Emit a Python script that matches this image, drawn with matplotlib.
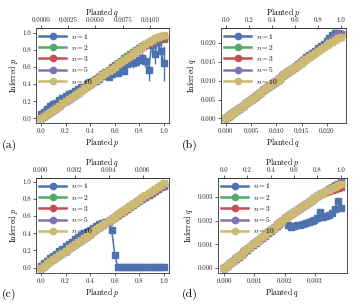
import numpy as np
import matplotlib
matplotlib.use('Agg')
import matplotlib.pyplot as plt
from matplotlib.lines import Line2D
from matplotlib.ticker import FormatStrFormatter

plt.rcParams['font.family'] = ['cmr10', 'DejaVu Serif']
plt.rcParams['mathtext.fontset'] = 'cm'
plt.rcParams['axes.unicode_minus'] = False
plt.rcParams['axes.formatter.use_mathtext'] = True

labels = ['$n = 1$', '$n = 2$', '$n = 3$', '$n = 5$', '$n = 10$']
colors = ['#4C72B0', '#55A868', '#C44E52', '#8172B2', '#CCB974']

# planted grids (41 evenly spaced planted values)
p_a = np.linspace(0, 1, 41)
q_b = np.linspace(0, 0.0228, 41)
p_c = np.linspace(0, 1, 41)
q_d = np.linspace(0, 0.00385, 41)

# (a) inferred p
a_n1 = [0.05, 0.08, 0.11, 0.14, 0.17, 0.18, 0.21, 0.24, 0.26, 0.28, 0.29, 0.32, 0.34, 0.36,
        0.37, 0.40, 0.42, 0.43, 0.44, 0.46, 0.49, 0.50, 0.48, 0.52, 0.55, 0.53, 0.60, 0.55,
        0.63, 0.66, 0.64, 0.66, 0.68, 0.70, 0.67, 0.56, 0.86, 0.75, 0.89, 0.79, 0.64]
a_n1_err = [0.01, 0.01, 0.01, 0.01, 0.01, 0.01, 0.01, 0.01, 0.01, 0.01, 0.01, 0.01, 0.01, 0.01,
            0.015, 0.015, 0.015, 0.02, 0.02, 0.02, 0.02, 0.025, 0.03, 0.03, 0.03, 0.035, 0.04,
            0.04, 0.045, 0.05, 0.05, 0.05, 0.05, 0.06, 0.07, 0.12, 0.10, 0.12, 0.09, 0.12, 0.20]
a_n2 = [0.000, 0.025, 0.050, 0.075, 0.100, 0.125, 0.150, 0.175, 0.200, 0.226, 0.251, 0.276,
        0.302, 0.327, 0.353, 0.379, 0.405, 0.431, 0.458, 0.485, 0.512, 0.539, 0.566, 0.593,
        0.620, 0.646, 0.672, 0.698, 0.724, 0.750, 0.775, 0.799, 0.822, 0.845, 0.865, 0.882,
        0.897, 0.908, 0.917, 0.924, 0.929]
a_n3 = [0.000, 0.024, 0.049, 0.074, 0.099, 0.124, 0.149, 0.174, 0.199, 0.224, 0.250, 0.275,
        0.300, 0.326, 0.351, 0.377, 0.402, 0.428, 0.453, 0.479, 0.505, 0.530, 0.556, 0.582,
        0.607, 0.633, 0.658, 0.684, 0.709, 0.734, 0.759, 0.784, 0.808, 0.832, 0.856, 0.878,
        0.897, 0.912, 0.925, 0.934, 0.940]
a_n5 = [0.000, 0.024, 0.049, 0.074, 0.099, 0.124, 0.149, 0.174, 0.199, 0.224, 0.249, 0.275,
        0.300, 0.325, 0.350, 0.376, 0.401, 0.426, 0.452, 0.477, 0.503, 0.528, 0.554, 0.579,
        0.605, 0.630, 0.656, 0.681, 0.707, 0.733, 0.758, 0.784, 0.809, 0.835, 0.860, 0.884,
        0.906, 0.926, 0.941, 0.951, 0.956]
a_n10 = [0.000, 0.024, 0.049, 0.074, 0.099, 0.124, 0.149, 0.174, 0.199, 0.224, 0.249, 0.274,
         0.299, 0.324, 0.350, 0.375, 0.400, 0.425, 0.450, 0.476, 0.501, 0.526, 0.552, 0.577,
         0.603, 0.628, 0.654, 0.680, 0.706, 0.732, 0.758, 0.784, 0.810, 0.836, 0.862, 0.888,
         0.912, 0.935, 0.952, 0.963, 0.968]

# (b) inferred q
b_n1 = [0.00000, 0.00057, 0.00114, 0.00171, 0.00228, 0.00285, 0.00342, 0.00399, 0.00456,
        0.00513, 0.00570, 0.00627, 0.00684, 0.00741, 0.00798, 0.00855, 0.00912, 0.00969,
        0.01026, 0.01083, 0.01140, 0.01197, 0.01254, 0.01315, 0.01375, 0.01440, 0.01500,
        0.01560, 0.01620, 0.01680, 0.01740, 0.01800, 0.01860, 0.01920, 0.01980, 0.02050,
        0.02130, 0.02220, 0.02260, 0.02260, 0.02250]
b_n2 = [0.00000, 0.00057, 0.00114, 0.00171, 0.00228, 0.00285, 0.00342, 0.00399, 0.00456,
        0.00513, 0.00570, 0.00627, 0.00684, 0.00741, 0.00798, 0.00855, 0.00912, 0.00969,
        0.01026, 0.01083, 0.01140, 0.01197, 0.01254, 0.01311, 0.01368, 0.01425, 0.01482,
        0.01538, 0.01593, 0.01648, 0.01703, 0.01758, 0.01813, 0.01868, 0.01923, 0.01980,
        0.02040, 0.02100, 0.02160, 0.02200, 0.02220]
b_n3 = [0.00000, 0.00057, 0.00114, 0.00171, 0.00228, 0.00285, 0.00342, 0.00399, 0.00456,
        0.00513, 0.00570, 0.00627, 0.00684, 0.00741, 0.00798, 0.00855, 0.00912, 0.00969,
        0.01026, 0.01083, 0.01140, 0.01197, 0.01254, 0.01311, 0.01366, 0.01421, 0.01476,
        0.01531, 0.01586, 0.01640, 0.01694, 0.01748, 0.01802, 0.01856, 0.01910, 0.01965,
        0.02025, 0.02090, 0.02160, 0.02210, 0.02230]
b_n5 = [0.00000, 0.00057, 0.00114, 0.00171, 0.00228, 0.00285, 0.00342, 0.00399, 0.00456,
        0.00513, 0.00570, 0.00627, 0.00684, 0.00741, 0.00798, 0.00855, 0.00912, 0.00969,
        0.01026, 0.01083, 0.01140, 0.01197, 0.01254, 0.01311, 0.01368, 0.01425, 0.01480,
        0.01535, 0.01590, 0.01645, 0.01700, 0.01755, 0.01810, 0.01865, 0.01920, 0.01975,
        0.02035, 0.02110, 0.02190, 0.02240, 0.02240]
b_n10 = [0.00000, 0.00057, 0.00114, 0.00171, 0.00228, 0.00285, 0.00342, 0.00399, 0.00456,
         0.00513, 0.00570, 0.00627, 0.00684, 0.00741, 0.00798, 0.00855, 0.00912, 0.00969,
         0.01026, 0.01083, 0.01140, 0.01197, 0.01254, 0.01311, 0.01366, 0.01421, 0.01476,
         0.01530, 0.01580, 0.01630, 0.01680, 0.01740, 0.01790, 0.01840, 0.01890, 0.01940,
         0.01990, 0.02030, 0.02080, 0.02130, 0.02170]

# (c) inferred p
c_n1 = [0.02, 0.05, 0.08, 0.11, 0.13, 0.16, 0.19, 0.22, 0.25, 0.28, 0.30, 0.33, 0.36, 0.38,
        0.40, 0.42, 0.44, 0.46, 0.49, 0.51, 0.52, 0.53, 0.535, 0.44, 0.15, 0.004, 0.004, 0.004,
        0.004, 0.004, 0.004, 0.004, 0.004, 0.004, 0.004, 0.004, 0.004, 0.004, 0.004, 0.004, 0.004]
c_n1_err = [0.01, 0.01, 0.01, 0.01, 0.01, 0.01, 0.01, 0.01, 0.01, 0.01, 0.01, 0.01, 0.01, 0.01,
            0.01, 0.01, 0.01, 0.01, 0.01, 0.01, 0.01, 0.01, 0.015, 0.03, 0.03, 0.005, 0.005,
            0.005, 0.005, 0.005, 0.005, 0.005, 0.005, 0.005, 0.005, 0.005, 0.005, 0.005, 0.005,
            0.005, 0.005]
c_n2 = [0.000, 0.024, 0.049, 0.074, 0.099, 0.124, 0.149, 0.173, 0.198, 0.223, 0.248, 0.273,
        0.297, 0.322, 0.347, 0.372, 0.397, 0.421, 0.446, 0.471, 0.496, 0.520, 0.545, 0.569,
        0.593, 0.617, 0.641, 0.664, 0.688, 0.711, 0.734, 0.757, 0.772, 0.796, 0.822, 0.848,
        0.874, 0.899, 0.924, 0.948, 0.970]
c_n3 = [0.000, 0.024, 0.049, 0.074, 0.099, 0.124, 0.149, 0.173, 0.198, 0.223, 0.248, 0.273,
        0.297, 0.322, 0.347, 0.372, 0.397, 0.421, 0.446, 0.471, 0.496, 0.520, 0.544, 0.568,
        0.592, 0.616, 0.640, 0.664, 0.688, 0.712, 0.736, 0.759, 0.782, 0.805, 0.828, 0.851,
        0.874, 0.896, 0.917, 0.935, 0.950]
c_n5 = [0.000, 0.024, 0.049, 0.074, 0.099, 0.124, 0.149, 0.173, 0.198, 0.223, 0.248, 0.273,
        0.297, 0.322, 0.347, 0.372, 0.397, 0.421, 0.446, 0.471, 0.496, 0.521, 0.545, 0.570,
        0.595, 0.620, 0.645, 0.669, 0.694, 0.718, 0.742, 0.766, 0.790, 0.814, 0.838, 0.862,
        0.885, 0.907, 0.928, 0.946, 0.962]
c_n10 = [0.000, 0.024, 0.049, 0.074, 0.099, 0.124, 0.149, 0.173, 0.198, 0.223, 0.248, 0.273,
         0.297, 0.322, 0.347, 0.372, 0.397, 0.421, 0.446, 0.471, 0.496, 0.521, 0.545, 0.570,
         0.595, 0.620, 0.645, 0.669, 0.694, 0.719, 0.744, 0.769, 0.793, 0.818, 0.843, 0.868,
         0.893, 0.917, 0.942, 0.965, 0.988]

# (d) inferred q
d_n1 = [0.00000, 0.00009, 0.00019, 0.00029, 0.00039, 0.00048, 0.00058, 0.00068, 0.00078,
        0.00088, 0.00098, 0.00107, 0.00117, 0.00127, 0.00137, 0.00147, 0.00157, 0.00167,
        0.00177, 0.00187, 0.00197, 0.00206, 0.00180, 0.00174, 0.00176, 0.00180, 0.00183,
        0.00187, 0.00190, 0.00194, 0.00198, 0.00203, 0.00212, 0.00238, 0.00216, 0.00220,
        0.00224, 0.00232, 0.00250, 0.00285, 0.00255]
d_n2 = [0.00000, 0.00010, 0.00020, 0.00030, 0.00040, 0.00050, 0.00060, 0.00070, 0.00080,
        0.00090, 0.00100, 0.00110, 0.00120, 0.00130, 0.00140, 0.00150, 0.00160, 0.00170,
        0.00180, 0.00190, 0.00200, 0.00210, 0.00219, 0.00228, 0.00237, 0.00246, 0.00255,
        0.00264, 0.00272, 0.00280, 0.00288, 0.00296, 0.00304, 0.00311, 0.00318, 0.00326,
        0.00333, 0.00341, 0.00349, 0.00357, 0.00365]
d_n3 = [0.00000, 0.00010, 0.00020, 0.00030, 0.00040, 0.00050, 0.00060, 0.00070, 0.00080,
        0.00090, 0.00100, 0.00110, 0.00120, 0.00130, 0.00140, 0.00150, 0.00160, 0.00170,
        0.00180, 0.00190, 0.00200, 0.00210, 0.00219, 0.00228, 0.00237, 0.00246, 0.00255,
        0.00264, 0.00272, 0.00280, 0.00288, 0.00296, 0.00304, 0.00311, 0.00318, 0.00323,
        0.00327, 0.00331, 0.00335, 0.00338, 0.00341]
d_n5 = [0.00000, 0.00010, 0.00020, 0.00030, 0.00040, 0.00050, 0.00060, 0.00070, 0.00080,
        0.00090, 0.00100, 0.00110, 0.00120, 0.00130, 0.00140, 0.00150, 0.00160, 0.00170,
        0.00180, 0.00190, 0.00200, 0.00210, 0.00219, 0.00228, 0.00237, 0.00246, 0.00255,
        0.00264, 0.00272, 0.00280, 0.00288, 0.00296, 0.00304, 0.00311, 0.00318, 0.00326,
        0.00333, 0.00340, 0.00347, 0.00355, 0.00362]
d_n10 = [0.00000, 0.00010, 0.00020, 0.00030, 0.00040, 0.00050, 0.00060, 0.00070, 0.00080,
         0.00090, 0.00100, 0.00110, 0.00120, 0.00130, 0.00140, 0.00150, 0.00160, 0.00170,
         0.00180, 0.00190, 0.00200, 0.00210, 0.00219, 0.00228, 0.00237, 0.00246, 0.00255,
         0.00264, 0.00272, 0.00280, 0.00288, 0.00296, 0.00304, 0.00311, 0.00318, 0.00325,
         0.00331, 0.00337, 0.00343, 0.00349, 0.00355]

TICK_FS = 5.0
LABEL_FS = 5.6
LEG_FS = 5.4
MS = 4.3


def style_ax(ax):
    for s in ax.spines.values():
        s.set_linewidth(0.6)
        s.set_color('0.2')
    ax.tick_params(direction='out', length=2, width=0.5, labelsize=TICK_FS, pad=1.5,
                   colors='0.15')


def draw_panel(ax, x, ys, err1, xlab, ylab, toplab, xmax, topticks, topfmt,
               xfmt, yfmt, xlim, ylim, xticks=None, yticks=None):
    for i, (y, c) in enumerate(zip(ys, colors)):
        if i == 0 and err1 is not None:
            ax.errorbar(x, y, yerr=err1, color=c, marker='s', ms=MS, lw=1.1,
                        elinewidth=1.0, capsize=0, zorder=2)
        else:
            ax.plot(x, y, color=c, marker='s', ms=MS, lw=1.1, zorder=2 + i)
    ax.set_xlim(*xlim)
    ax.set_ylim(*ylim)
    if xticks is not None:
        ax.set_xticks(xticks)
    if yticks is not None:
        ax.set_yticks(yticks)
    ax.xaxis.set_major_formatter(FormatStrFormatter(xfmt))
    ax.yaxis.set_major_formatter(FormatStrFormatter(yfmt))
    ax.set_xlabel(xlab, fontsize=LABEL_FS, labelpad=1.5)
    ax.set_ylabel(ylab, fontsize=LABEL_FS, labelpad=2)
    style_ax(ax)

    sec = ax.secondary_xaxis('top', functions=(lambda v: v * xmax / x[-1],
                                                lambda v: v * x[-1] / xmax))
    sec.set_xticks(topticks)
    sec.xaxis.set_major_formatter(FormatStrFormatter(topfmt))
    sec.set_xlabel(toplab, fontsize=LABEL_FS, labelpad=2)
    sec.tick_params(direction='out', length=2, width=0.5, labelsize=TICK_FS, pad=1.5,
                    colors='0.15')
    sec.spines['top'].set_linewidth(0.6)
    sec.spines['top'].set_color('0.2')

    handles = [Line2D([], [], color=c, marker='o', ms=4.5, lw=1.8) for c in colors]
    leg = ax.legend(handles, labels, loc='upper left', frameon=False, fontsize=LEG_FS,
                    handlelength=3.6, labelspacing=0.3, handletextpad=0.6,
                    borderaxespad=0.05, bbox_to_anchor=(0.0, 1.0))
    leg.set_zorder(20)


fig = plt.figure(figsize=(3.6, 3.07), dpi=100)

ax_a = fig.add_axes([0.100, 0.599, 0.369, 0.309])
draw_panel(ax_a, p_a, [a_n1, a_n2, a_n3, a_n5, a_n10], a_n1_err,
           'Planted $p$', 'Inferred $p$', 'Planted $q$', 0.01128,
           [0.0, 0.0025, 0.005, 0.0075, 0.01], '%.4f', '%.1f', '%.1f',
           (-0.04, 1.04), (-0.055, 1.05))

ax_b = fig.add_axes([0.614, 0.599, 0.347, 0.309])
draw_panel(ax_b, q_b, [b_n1, b_n2, b_n3, b_n5, b_n10], None,
           'Planted $q$', 'Inferred $q$', 'Planted $p$', 1.0,
           [0.0, 0.2, 0.4, 0.6, 0.8, 1.0], '%.1f', '%.3f', '%.3f',
           (-0.00093, 0.0238), (-0.00124, 0.0239),
           xticks=[0, 0.005, 0.01, 0.015, 0.02], yticks=[0, 0.005, 0.01, 0.015, 0.02])

ax_c = fig.add_axes([0.100, 0.111, 0.369, 0.309])
draw_panel(ax_c, p_c, [c_n1, c_n2, c_n3, c_n5, c_n10], c_n1_err,
           'Planted $p$', 'Inferred $p$', 'Planted $q$', 0.00725,
           [0.0, 0.002, 0.004, 0.006], '%.3f', '%.1f', '%.1f',
           (-0.04, 1.04), (-0.062, 1.043))

ax_d = fig.add_axes([0.6056, 0.111, 0.3575, 0.309])
draw_panel(ax_d, q_d, [d_n1, d_n2, d_n3, d_n5, d_n10], None,
           'Planted $q$', 'Inferred $q$', 'Planted $p$', 1.0,
           [0.0, 0.2, 0.4, 0.6, 0.8, 1.0], '%.1f', '%.3f', '%.3f',
           (-0.0002, 0.00405), (-0.00021, 0.0038),
           xticks=[0, 0.001, 0.002, 0.003], yticks=[0, 0.001, 0.002, 0.003])

for lab, x, y in [('(a)', 0.005, 0.528), ('(b)', 0.505, 0.528),
                  ('(c)', 0.005, 0.04), ('(d)', 0.505, 0.04)]:
    fig.text(x, y, lab, fontsize=8.5, va='center', ha='left')

fig.savefig('out.png', dpi=100)
